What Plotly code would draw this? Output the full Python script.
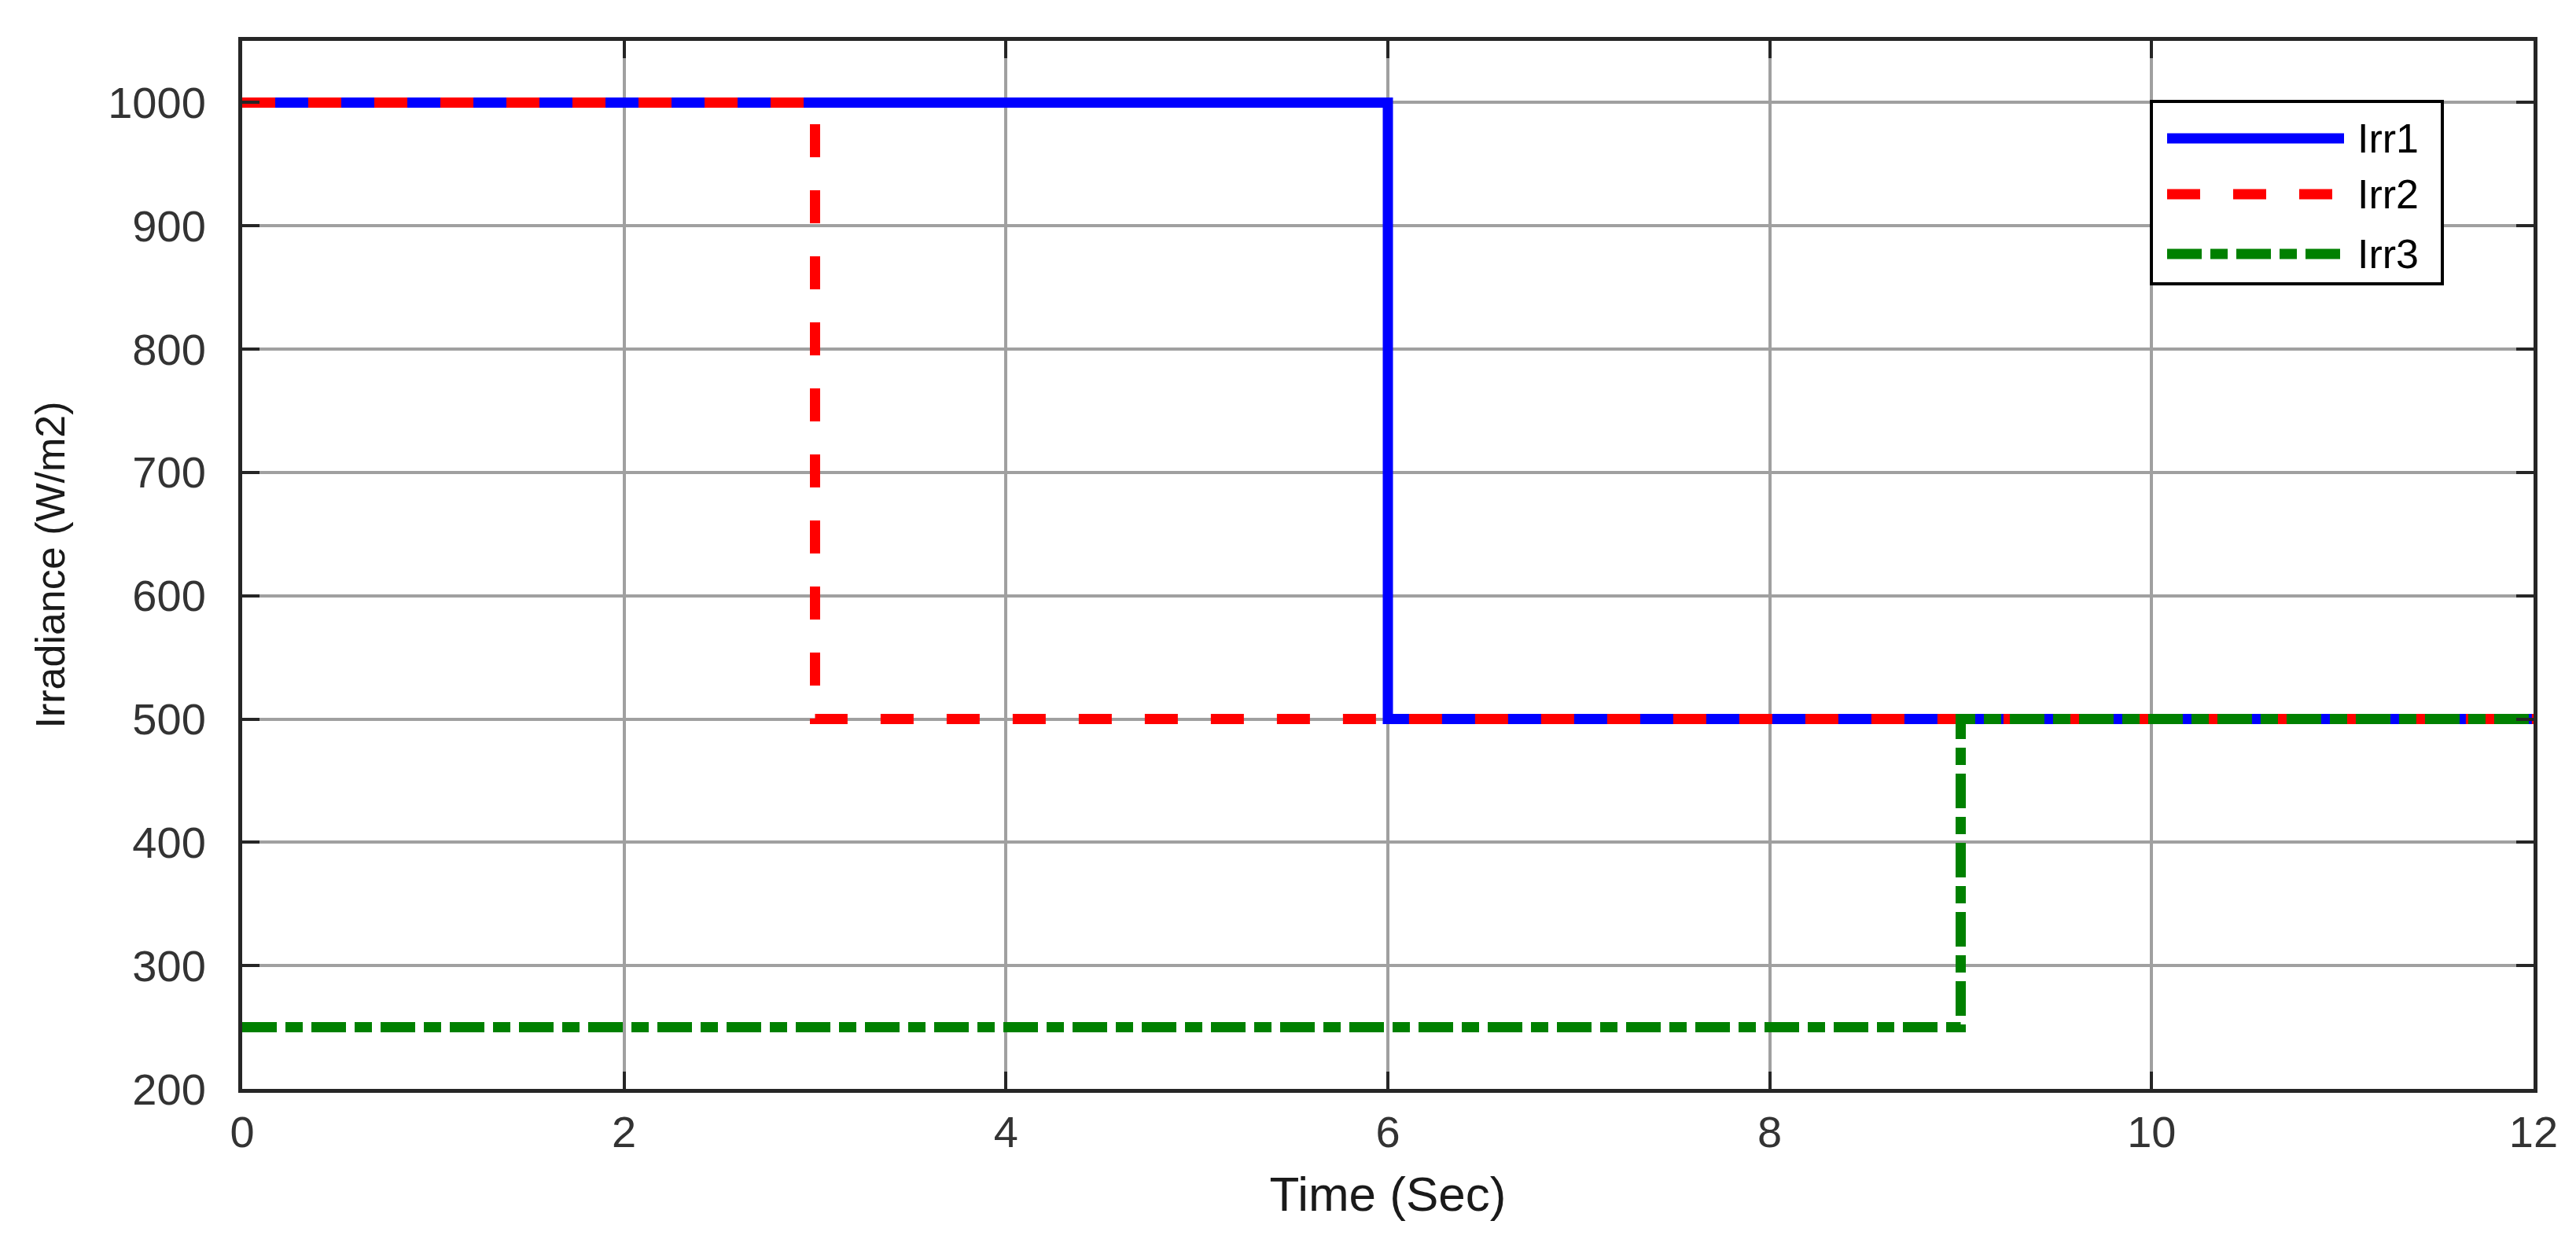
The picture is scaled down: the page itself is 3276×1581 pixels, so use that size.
import plotly.graph_objects as go

# ---- data ----
t1 = [0, 6, 12]
irr1 = [1000, 500, 500]
t2 = [0, 3, 12]
irr2 = [1000, 500, 500]
t3 = [0, 9, 12]
irr3 = [250, 500, 500]
series_names = ["Irr1", "Irr2", "Irr3"]
x_ticks = [0, 2, 4, 6, 8, 10, 12]
y_ticks = [200, 300, 400, 500, 600, 700, 800, 900, 1000]

colors = ["#0000FF", "#FF0000", "#008000"]
dashes = ["solid", "42px,42px", "44px,11px,22px,11px"]
LW = 13
FONT = "Liberation Sans, Arial, Helvetica, sans-serif"

fig = go.Figure()
for t, v, name, c, d in zip([t1, t2, t3], [irr1, irr2, irr3], series_names, colors, dashes):
    fig.add_trace(go.Scatter(x=t, y=v, name=name, mode="lines", line_shape="hv",
                             line=dict(color=c, width=LW, dash=d), showlegend=False))

W, H = 3276, 1581
ML, MR, MT, MB = 300, 62, 44, 204
pw, ph = W - ML - MR, H - MT - MB

def px(xp):
    return (xp - ML) / pw

def py(yp):
    return 1 - (yp - MT) / ph

axis_common = dict(showline=True, linecolor="#262626", linewidth=5, mirror="ticks",
                   ticks="inside", ticklen=22, tickwidth=4, tickcolor="#262626",
                   showgrid=True, gridcolor="#A0A0A0", gridwidth=4, zeroline=False,
                   tickfont=dict(family=FONT, size=56, color="#333333"))

fig.update_layout(
    width=W, height=H,
    margin=dict(l=ML, r=MR, t=MT, b=MB),
    paper_bgcolor="white", plot_bgcolor="white",
    xaxis=dict(range=[0, 12], tickvals=x_ticks, ticktext=[str(v) for v in x_ticks],
               ticklabelstandoff=2,
               title=dict(text="Time (Sec)", font=dict(family=FONT, size=62, color="#1a1a1a"), standoff=28),
               **axis_common),
    yaxis=dict(range=[200, 1050], tickvals=y_ticks, ticktext=[str(v) for v in y_ticks],
               ticklabelstandoff=30,
               title=dict(text="Irradiance (W/m2)", font=dict(family=FONT, size=52, color="#1a1a1a"), standoff=40),
               **axis_common),
)

# ---- legend (drawn box with samples) ----
shapes = [dict(type="rect", xref="paper", yref="paper",
               x0=px(2728), x1=px(3098), y0=py(353), y1=py(121),
               line=dict(color="black", width=4), fillcolor="white", layer="above")]
annotations = []
rows = [168, 239, 315]
for name, c, d, r in zip(series_names, colors, dashes, rows):
    shapes.append(dict(type="line", xref="paper", yref="paper",
                       x0=px(2748), x1=px(2973), y0=py(r), y1=py(r),
                       line=dict(color=c, width=LW, dash=d), layer="above"))
    annotations.append(dict(xref="paper", yref="paper", x=px(2988), y=py(r),
                            xanchor="left", yanchor="middle", text=name, showarrow=False,
                            font=dict(family=FONT, size=52, color="black")))
fig.update_layout(shapes=shapes, annotations=annotations)

fig.write_html("out.html")
